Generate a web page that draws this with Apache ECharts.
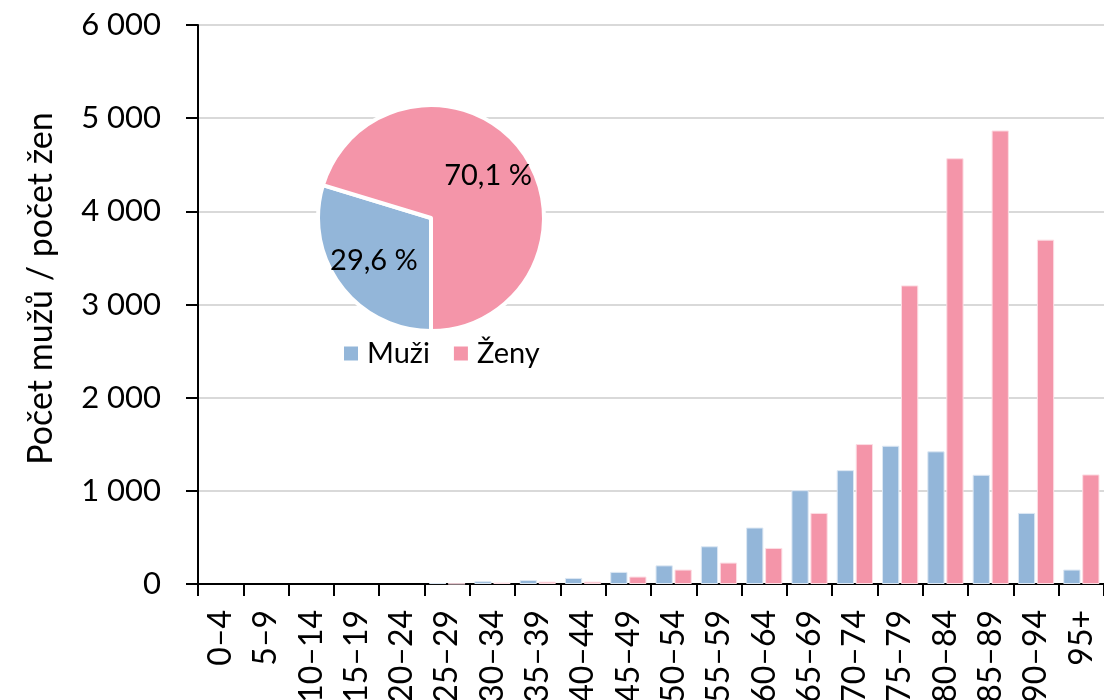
<!DOCTYPE html>
<html>
<head>
<meta charset="utf-8">
<script src="https://cdn.jsdelivr.net/npm/echarts@6/dist/echarts.min.js"></script>
<style>
  html, body { margin: 0; padding: 0; background: #fff; }
  #chart { width: 1104px; height: 700px; }
</style>
</head>
<body>
<div id="chart"></div>
<script>
// Age groups (5-year bands)
const ageGroups = ['0–4', '5–9', '10–14', '15–19', '20–24', '25–29', '30–34', '35–39', '40–44', '45–49',
  '50–54', '55–59', '60–64', '65–69', '70–74', '75–79', '80–84', '85–89', '90–94', '95+'];

// Number of men per age group
const men = [0, 0, 0, 0, 0, 10, 30, 43, 65, 130, 200, 405, 606, 1007, 1222, 1484, 1424, 1172, 763, 155];

// Number of women per age group
const women = [0, 0, 0, 0, 0, 4, 15, 25, 25, 80, 155, 230, 387, 763, 1502, 3205, 4570, 4868, 3696, 1176];

// Share of all persons by sex (%)
const sharePct = [29.6, 70.1];
const sexNames = ['Muži', 'Ženy'];

// Y axis scale
const yMin = 0, yMax = 6000, yStep = 1000;

const colMen = '#93b6d9';
const colWomen = '#f495a9';
const edgeMen = '#dce7f3';
const edgeWomen = '#fcdde4';
const fontFam = 'Lato, "Noto Sans", sans-serif';

function fmtThousands(v) {
  return String(v).replace(/\B(?=(\d{3})+(?!\d))/g, ' ');
}
function fmtPct(v) {
  return String(v).replace('.', ',') + ' %';
}
// Bars get a thin light edge; empty groups get no outline at all
function barData(values, edge) {
  return values.map(v => ({
    value: v,
    itemStyle: { borderColor: edge, borderWidth: v > 0 ? 1 : 0 }
  }));
}

const pieCenter = [431, 218];
const sliceColors = [colMen, colWomen];

const chart = echarts.init(document.getElementById('chart'), null, { renderer: 'canvas' });

chart.setOption({
  backgroundColor: '#fff',
  animation: false,
  textStyle: { fontFamily: fontFam },
  grid: { left: 198, right: 0, top: 25, bottom: 116, containLabel: false, outerBoundsMode: 'none' },
  legend: {
    data: sexNames,
    left: 339,
    top: 334,
    z: 20,
    itemWidth: 14,
    itemHeight: 14,
    itemGap: 24,
    icon: 'rect',
    selectedMode: false,
    itemStyle: { borderWidth: 0 },
    textStyle: { fontSize: 29, color: '#000', fontFamily: fontFam, padding: [0, 0, 0, 4] }
  },
  xAxis: {
    type: 'category',
    data: ageGroups,
    boundaryGap: true,
    axisLine: { lineStyle: { color: '#000', width: 2 } },
    axisTick: { show: true, alignWithLabel: false, length: 12, lineStyle: { color: '#000', width: 2 } },
    axisLabel: {
      rotate: 90,
      interval: 0,
      margin: 26,
      fontSize: 32,
      color: '#000',
      fontFamily: fontFam
    },
    splitLine: { show: false }
  },
  yAxis: {
    type: 'value',
    min: yMin,
    max: yMax,
    interval: yStep,
    name: 'Počet mužů / počet žen',
    nameLocation: 'middle',
    nameGap: 140,
    nameRotate: 90,
    nameTextStyle: { fontSize: 34, color: '#000', fontFamily: fontFam, padding: [0, 0, 0, 32] },
    axisLine: { show: true, lineStyle: { color: '#000', width: 2 } },
    axisTick: { show: true, length: 12, lineStyle: { color: '#000', width: 2 } },
    axisLabel: {
      margin: 37,
      fontSize: 31,
      color: '#000',
      fontFamily: fontFam,
      formatter: fmtThousands
    },
    splitLine: { show: true, lineStyle: { color: '#d9d9d9', width: 2 } }
  },
  series: [
    {
      name: sexNames[0],
      type: 'bar',
      data: barData(men, edgeMen),
      barGap: '10%',
      barCategoryGap: '20%',
      itemStyle: { color: colMen }
    },
    {
      name: sexNames[1],
      type: 'bar',
      data: barData(women, edgeWomen),
      itemStyle: { color: colWomen }
    },
    {
      // Share pie drawn over the plot area
      name: 'Podíl',
      type: 'pie',
      center: pieCenter,
      radius: [0, 113],
      startAngle: -90,
      clockwise: true,
      z: 10,
      data: sexNames.map((n, i) => ({ name: n, value: sharePct[i], itemStyle: { color: sliceColors[i] } })),
      itemStyle: { borderColor: '#fff', borderWidth: 4 },
      label: { show: false },
      labelLine: { show: false },
      emphasis: { disabled: true },
      silent: true
    },
    {
      // Transparent ring carrying the percentage labels a bit further out
      name: 'Podíl – popisky',
      type: 'pie',
      center: pieCenter,
      radius: [0, 136],
      startAngle: -90,
      clockwise: true,
      z: 11,
      data: sexNames.map((n, i) => ({ name: n, value: sharePct[i] })),
      itemStyle: { color: 'rgba(0,0,0,0)', borderWidth: 0 },
      label: {
        show: true,
        position: 'inside',
        fontSize: 29,
        color: '#000',
        fontFamily: fontFam,
        formatter: p => fmtPct(p.value)
      },
      labelLine: { show: false },
      emphasis: { disabled: true },
      silent: true
    }
  ]
});
</script>
</body>
</html>
